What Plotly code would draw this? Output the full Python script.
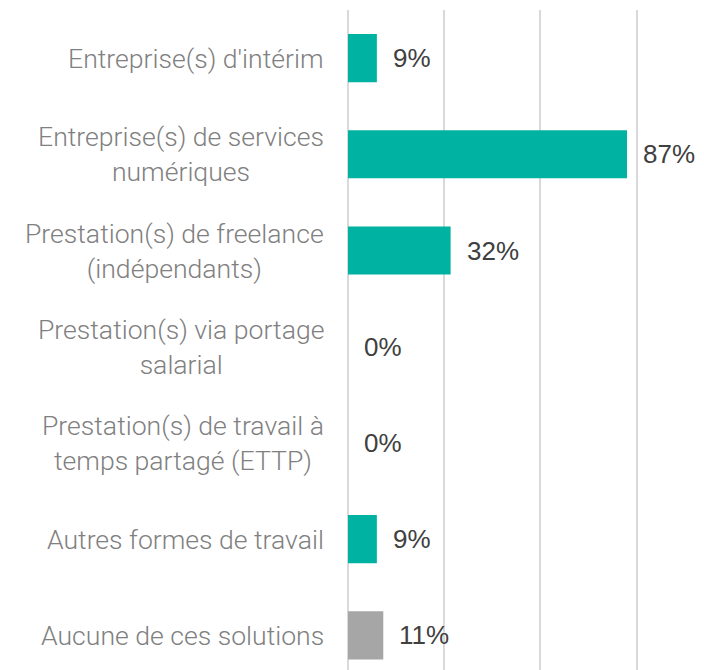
import plotly.graph_objects as go

# Survey answers: external staffing solutions used
categories = [
    "Entreprise(s) d'intérim",
    "Entreprise(s) de services<br>numériques",
    "Prestation(s) de freelance<br>(indépendants)",
    "Prestation(s) via portage<br>salarial",
    "Prestation(s) de travail à<br>temps partagé (ETTP)",
    "Autres formes de travail",
    "Aucune de ces solutions",
]
values = [9, 87, 32, 0, 0, 9, 11]
value_labels = ["9%", "87%", "32%", "0%", "0%", "9%", "11%"]
bar_colors = ["#00B2A1"] * 6 + ["#A6A6A6"]

fig = go.Figure(
    go.Bar(
        x=values,
        y=categories,
        orientation="h",
        width=0.5,
        marker=dict(color=bar_colors, line=dict(width=0)),
        hoverinfo="skip",
    )
)

# value labels to the right of each bar
for cat, val, lab in zip(categories, values, value_labels):
    fig.add_annotation(
        x=val, y=cat, text=lab, showarrow=False,
        xanchor="left", yanchor="middle", xshift=14,
        font=dict(family="Liberation Sans, Arial, sans-serif", size=26, color="#404040"),
    )

# category labels, centred line by line, right-aligned against the axis
for cat in categories:
    fig.add_annotation(
        xref="paper", x=0, y=cat, text=cat, showarrow=False,
        xanchor="right", yanchor="middle", align="center", xshift=-22,
        font=dict(family="Roboto", size=26.6, color="#808080", weight=300),
    )

fig.update_layout(
    width=704, height=670,
    margin=dict(l=348, r=0, t=10, b=0),
    paper_bgcolor="white", plot_bgcolor="white",
    showlegend=False,
    xaxis=dict(
        range=[0, 111], dtick=30, showticklabels=False,
        showgrid=True, gridcolor="#D9D9D9", gridwidth=1.5,
        zeroline=True, zerolinecolor="#D9D9D9", zerolinewidth=1.5,
        showline=False, fixedrange=True,
    ),
    yaxis=dict(
        range=[6.36, -0.5], showgrid=False, zeroline=False, showline=False,
        showticklabels=False, ticks="", fixedrange=True,
    ),
)

fig.write_html("out.html")
